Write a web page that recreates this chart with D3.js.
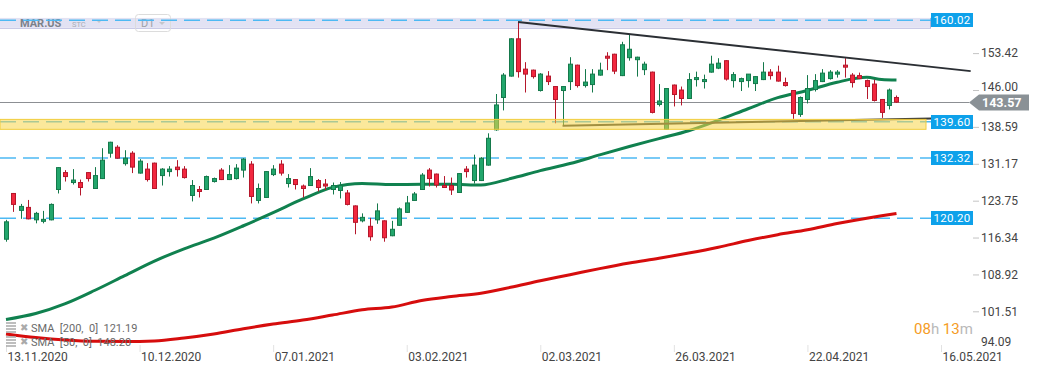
<!DOCTYPE html>
<html>
<head>
<meta charset="utf-8">
<script src="https://cdn.jsdelivr.net/npm/d3@7"></script>
<style>
  body { margin: 0; background: #fff; font-family: Roboto, "Open Sans", sans-serif; }
  svg { display: block; }
</style>
</head>
<body>
<script>
// daily candles, 13.11.2020 .. 10.05.2021 (index = trading day)
const opens = [116.0,125.2,121.8,122.4,119.9,119.6,119.9,126.0,129.4,127.4,127.4,129.4,126.2,128.2,133.3,134.5,131.2,133.3,129.3,130.1,
  131.3,128.8,129.6,130.5,130.1,124.8,126.0,126.0,127.6,129.9,128.0,128.2,129.9,131.1,123.8,124.4,129.0,131.1,127.2,128.0,
  126.7,126.8,127.8,127.1,126.0,125.8,125.3,122.7,119.7,118.6,119.9,119.7,116.7,118.8,121.4,123.8,126.0,129.9,129.1,126.8,
  126.8,125.4,130.1,127.8,127.8,130.9,138.0,144.5,148.8,156.3,150.2,150.0,145.9,148.8,146.7,145.9,147.7,151.0,146.9,147.1,
  149.0,152.8,153.2,148.9,152.5,152.1,150.1,149.6,143.1,138.1,147.0,146.0,144.3,148.1,147.7,149.6,150.4,151.9,147.9,147.7,
  147.9,147.3,148.1,149.6,149.6,147.5,145.9,141.1,144.1,146.1,147.7,148.3,149.2,151.0,149.0,148.9,147.9,147.2,144.1,142.9,144.5]
const highs = [119.9,125.3,123.1,123.9,121.5,121.7,123.2,130.5,129.9,130.1,128.0,129.5,130.5,134.3,135.6,134.9,133.9,133.7,132.1,131.3,
  131.4,130.3,130.7,131.9,130.7,127.9,126.7,128.8,128.4,130.3,130.9,131.1,132.3,131.7,127.2,129.7,130.9,131.9,129.1,128.1,
  127.0,130.3,128.1,128.1,127.4,127.5,125.9,122.8,121.2,120.3,123.2,119.8,119.7,122.4,124.7,125.5,129.3,130.3,129.2,128.7,
  128.4,129.3,130.7,133.0,132.5,137.3,145.2,149.4,156.4,159.6,151.6,150.1,149.4,149.8,146.8,146.8,152.6,151.1,150.2,150.2,
  151.5,153.6,153.3,155.7,157.2,152.7,151.7,149.7,147.2,146.4,147.1,146.7,149.4,149.7,149.1,152.9,152.4,152.0,149.6,148.5,
  149.2,148.8,151.6,150.2,150.9,148.5,146.0,144.7,149.0,149.2,150.2,150.0,150.0,152.4,149.4,149.5,148.1,148.1,144.2,146.3,144.9]
const lows = [115.5,121.5,120.1,120.0,119.2,119.2,119.8,125.2,127.6,127.0,124.8,127.6,126.1,128.1,132.4,132.2,130.8,129.3,129.2,127.6,
  126.1,126.8,128.6,128.6,128.2,123.6,124.4,125.9,127.4,127.9,127.9,128.0,128.4,123.2,123.2,124.3,128.7,128.8,126.4,126.0,
  124.4,126.7,125.6,125.9,125.0,124.2,122.8,117.0,119.4,115.7,119.1,115.5,116.6,118.7,121.3,123.7,125.9,126.6,126.4,126.3,
  124.9,125.3,128.4,127.2,127.7,130.8,137.8,141.9,148.7,148.5,145.5,148.3,145.7,147.0,139.3,138.8,146.0,146.5,146.5,145.5,
  148.9,150.0,149.2,148.8,151.9,148.7,149.0,141.3,142.7,138.0,142.7,142.9,144.2,146.7,146.3,149.5,150.2,147.9,146.5,145.8,
  146.5,145.8,148.0,148.1,147.7,146.7,140.2,140.6,143.3,145.7,147.6,148.1,148.5,148.5,146.5,148.2,144.2,143.7,140.4,142.1,143.4]
const closes = [119.5,123.0,122.6,120.1,121.2,120.0,123.0,130.4,128.6,127.9,126.4,128.2,128.8,131.9,135.5,132.3,132.3,130.5,131.7,128.0,
  126.2,130.1,130.1,130.0,128.4,126.8,125.6,128.6,128.2,128.0,129.0,130.3,132.1,124.6,126.2,129.6,130.1,129.3,128.2,127.0,
  126.2,128.6,126.4,126.7,126.8,126.8,123.0,119.4,120.4,116.5,121.7,116.3,118.0,122.1,123.3,125.1,128.9,128.2,126.9,126.4,
  125.9,129.2,129.6,130.9,132.3,136.3,143.0,149.0,156.3,149.7,149.2,148.7,149.2,147.7,144.1,146.7,151.2,146.9,147.6,149.2,
  150.0,152.4,149.8,155.1,154.2,152.6,151.2,141.5,143.8,146.3,145.1,144.3,148.1,148.5,148.1,151.2,151.4,148.2,149.1,148.3,
  149.2,148.7,149.6,148.9,147.8,146.9,141.3,144.5,146.3,147.9,149.4,149.6,149.6,150.6,147.5,148.3,146.7,143.9,141.5,146.0,143.57]

// moving averages, read every few candles
const smaIdx = [0,4,8,12,16,20,24,28,32,36,40,44,48,52,56,60,64,68,72,76,80,84,88,92,96,100,104,108,112,116,118,120]
const sma50 = [99.85,101.06,103.05,105.74,108.68,111.61,114.07,116.22,118.71,121.35,124.10,126.43,127.22,126.98,127.04,127.04,
  126.90,128.20,129.79,131.22,132.95,134.64,136.23,137.82,139.93,142.24,144.47,145.92,147.57,148.55,148.11,148.01]
const sma200 = [96.94,96.23,95.73,95.47,95.43,95.53,96.13,96.94,98.00,98.95,99.75,100.76,101.80,102.36,103.67,104.48,
  105.14,106.33,107.65,108.86,110.09,111.21,112.16,113.22,114.39,115.74,116.92,117.91,119.15,120.22,120.70,121.19]

// x axis
const dateLabels = ['13.11.2020','10.12.2020','07.01.2021','03.02.2021','02.03.2021','26.03.2021','22.04.2021','16.05.2021']
const dateIdx = [0,18,36,54,72,90,108,126]

// price axis
const priceTicks = [153.42,146.00,138.59,131.17,123.75,116.34,108.92,101.51,94.09]
const levels = [160.02,139.60,132.32,120.20]
const lastPrice = 143.57
const resistanceZone = [158.5,160.5]
const supportZone = [138.1,140.1]

// trendlines [index, price]
const upperTrend = [[69,159.7],[130,149.8]]
const lowerTrend = [[75,138.82],[130,140.41]]

const width = 1041
const height = 374

const svg = d3.select('body').append('svg')
  .attr('viewBox', `0 0 ${width} ${height}`)
  .attr('width', width)
  .attr('height', height)

const x = d3.scaleLinear().domain([0, 126]).range([6, 941])
const y = d3.scaleLinear().domain([94.09, 160.02]).range([348.2, 20.3])

const round = Math.round
const levelRight = 931

// lavender zone at the top
svg.append('rect')
  .attr('x', 0).attr('width', levelRight)
  .attr('y', y(resistanceZone[1])).attr('height', y(resistanceZone[0]) - y(resistanceZone[1]))
  .attr('fill', '#e2e2f3')
svg.append('line')
  .attr('x1', 0).attr('x2', levelRight)
  .attr('y1', round(y(resistanceZone[0])) + 0.5).attr('y2', round(y(resistanceZone[0])) + 0.5)
  .attr('stroke', '#c9cae6')
svg.append('line')
  .attr('x1', levelRight - 0.5).attr('x2', levelRight - 0.5)
  .attr('y1', y(resistanceZone[1])).attr('y2', y(resistanceZone[0]))
  .attr('stroke', '#aab0d8')

// instrument header
const head = svg.append('g').attr('fill', '#7b818a')
head.append('text').attr('x', 20).attr('y', 27).attr('font-size', 11).attr('font-weight', 'bold').text('MAR.US')
head.append('text').attr('x', 72).attr('y', 27).attr('font-size', 7.5).attr('fill', '#a9aeb6').text('STC')
head.append('path').attr('d', 'M96,20 h6 l-3,3 z').attr('fill', '#c4c6cb')
head.append('rect').attr('x', 135.5).attr('y', 14.5).attr('width', 35).attr('height', 17).attr('rx', 3)
  .attr('fill', 'none').attr('stroke', '#dcdcdc')
head.append('text').attr('x', 141).attr('y', 27).attr('font-size', 11).attr('fill', '#9da1a8').text('D1')
head.append('path').attr('d', 'M159,22 h6 l-3,3 z').attr('fill', '#c4c6cb')

// dashed horizontal levels
svg.append('g')
  .selectAll('line')
  .data(levels)
  .join('line')
    .attr('x1', 0).attr('x2', levelRight)
    .attr('y1', d => y(d)).attr('y2', d => y(d))
    .attr('stroke', '#4db9f3')
    .attr('stroke-width', 1.5)
    .attr('stroke-dasharray', '16,7')

// current price line
svg.append('line')
  .attr('x1', 0).attr('x2', 969)
  .attr('y1', round(y(lastPrice)) + 0.5).attr('y2', round(y(lastPrice)) + 0.5)
  .attr('stroke', '#8c8f93')

// moving averages
const line = d3.line().x(d => x(d[0])).y(d => y(d[1])).curve(d3.curveMonotoneX)

svg.append('path')
  .datum(smaIdx.map((i, k) => [i, sma200[k]]))
  .attr('d', line)
  .attr('fill', 'none')
  .attr('stroke', '#d60d0d')
  .attr('stroke-width', 3)

svg.append('path')
  .datum(smaIdx.map((i, k) => [i, sma50[k]]))
  .attr('d', line)
  .attr('fill', 'none')
  .attr('stroke', '#10814f')
  .attr('stroke-width', 3)

// candles
const candles = opens.map((o, i) => ({i, o, h: highs[i], l: lows[i], c: closes[i]}))
const up = {fill: '#22a66c', stroke: '#15794b'}
const down = {fill: '#f2283f', stroke: '#b5172b'}
const col = d => d.c >= d.o ? up : down

const cg = svg.append('g')
  .selectAll('g')
  .data(candles)
  .join('g')

cg.append('line')
  .attr('x1', d => round(x(d.i)) + 0.5)
  .attr('x2', d => round(x(d.i)) + 0.5)
  .attr('y1', d => y(d.h))
  .attr('y2', d => y(d.l))
  .attr('stroke', d => col(d).stroke)

cg.append('rect')
  .attr('x', d => round(x(d.i)) - 1.5)
  .attr('width', 4)
  .attr('y', d => y(Math.max(d.o, d.c)))
  .attr('height', d => Math.max(1, Math.abs(y(d.o) - y(d.c))))
  .attr('fill', d => col(d).fill)
  .attr('stroke', d => col(d).stroke)

// trendlines
const trend = d3.line().x(d => x(d[0])).y(d => y(d[1]))
svg.append('path').datum(upperTrend).attr('d', trend)
  .attr('stroke', '#2b2f34').attr('stroke-width', 2).attr('fill', 'none')
svg.append('path').datum(lowerTrend).attr('d', trend)
  .attr('stroke', '#3a3a36').attr('stroke-width', 2).attr('fill', 'none')

// yellow support zone, see-through over everything
svg.append('rect')
  .attr('x', 0).attr('width', 926)
  .attr('y', y(supportZone[1])).attr('height', y(supportZone[0]) - y(supportZone[1]))
  .attr('fill', '#f8d548').attr('fill-opacity', 0.55)
  .attr('stroke', '#f1cc3c')

// level labels
const lab = svg.append('g')
  .selectAll('g')
  .data(levels)
  .join('g')
    .attr('transform', d => `translate(${levelRight},${round(y(d))})`)
lab.append('rect').attr('x', 0).attr('y', -7).attr('width', 42).attr('height', 14).attr('fill', '#0ea1ea')
lab.append('text').attr('x', 21).attr('y', 4).attr('text-anchor', 'middle')
  .attr('font-size', 11.5).attr('fill', '#fff').attr('letter-spacing', 0.3)
  .text(d => d.toFixed(2))

// price axis
const yAxis = svg.append('g')
  .attr('transform', 'translate(973,0)')
  .call(d3.axisRight(y).tickValues(priceTicks).tickFormat(d3.format('.2f')).tickSize(6).tickPadding(2))
yAxis.select('.domain').remove()
yAxis.selectAll('.tick line').attr('stroke', '#c4c4c4')
yAxis.selectAll('.tick text').attr('fill', '#444').attr('font-size', 12).attr('font-family', 'Roboto')
// lowest label sits a bit higher, off the date row
yAxis.selectAll('.tick').filter(d => d === 94.09)
  .call(t => t.select('line').remove())
  .call(t => t.select('text').attr('dy', '-0.2em'))
// 146.00 sits just above the last price tag
yAxis.selectAll('.tick').filter(d => d === 146)
  .select('text').attr('dy', '0.05em')

// last price arrow, over the axis
const ly = round(y(lastPrice)) + 0.5
svg.append('path')
  .attr('d', `M969,${ly} L979,${ly - 8} H1029 V${ly + 8} H979 Z`)
  .attr('fill', '#8a9196')
svg.append('text')
  .attr('x', 982).attr('y', ly + 4.5)
  .attr('font-size', 12.5).attr('font-weight', 'bold').attr('fill', '#fff')
  .text(lastPrice.toFixed(2))

// date axis
const xAxis = svg.append('g')
  .attr('transform', 'translate(0,345)')
  .call(d3.axisBottom(x).tickValues(dateIdx).tickFormat((d, i) => dateLabels[i]).tickSize(7))
xAxis.select('.domain').remove()
xAxis.selectAll('.tick line').attr('stroke', '#e2e2e2')
xAxis.selectAll('.tick text')
  .attr('text-anchor', 'start').attr('x', 1).attr('y', 16).attr('dy', 0)
  .attr('fill', '#444').attr('font-size', 12).attr('font-family', 'Roboto')

// indicator legend
const legend = [['SMA  [200,  0]  ', sma200[sma200.length - 1]], ['SMA  [50,  0]  ', 148.20]]
const lg = svg.append('g')
  .selectAll('g')
  .data(legend)
  .join('g')
    .attr('transform', (d, i) => `translate(0,${327 + i * 14})`)
lg.append('path').attr('d', 'M6,-4h10M6,-1h10M6,2h10M6,5h10').attr('stroke', '#a9a9a9').attr('stroke-width', 1.3)
lg.append('text').attr('x', 20).attr('y', 4).attr('font-size', 10).attr('fill', '#aaa').text('✖')
lg.append('text').attr('x', 31).attr('y', 4.5).attr('font-size', 11).attr('fill', '#6a6a6a')
  .attr('xml:space', 'preserve').style('white-space', 'pre')
  .text(d => d[0] + d[1].toFixed(2))

// candle countdown
const cd = svg.append('text').attr('x', 914).attr('y', 334).attr('font-size', 15)
cd.append('tspan').attr('fill', '#f59c26').text('08')
cd.append('tspan').attr('fill', '#b9b9b9').text('h ')
cd.append('tspan').attr('fill', '#f59c26').text('13')
cd.append('tspan').attr('fill', '#b9b9b9').text('m')
</script>
</body>
</html>
